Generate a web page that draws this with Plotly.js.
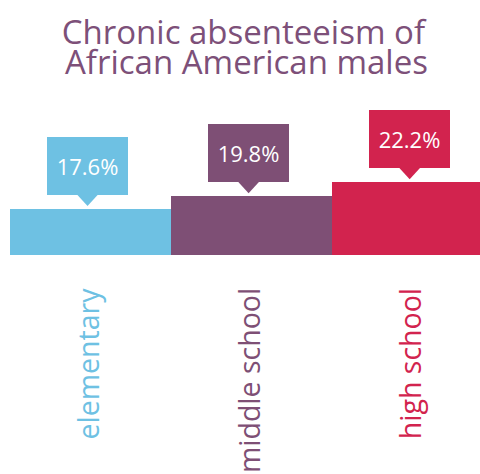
<!DOCTYPE html>
<html>
<head>
<meta charset="utf-8">
<script src="https://cdn.plot.ly/plotly-3.0.1.min.js"></script>
<style>html,body{margin:0;padding:0;background:#fff;}#chart{width:480px;height:474px;}</style>
</head>
<body>
<div id="chart"></div>
<script>
const categories = ['elementary', 'middle school', 'high school'];
const values = [17.6, 19.8, 22.2];
const valueLabels = ['17.6%', '19.8%', '22.2%'];
const colors = ['#6EC1E3', '#7E4F75', '#D2234E'];
const titleLine1 = 'Chronic absenteeism of';
const titleLine2 = 'African American males';
const titleColor = '#7D5079';

const bar = {
  type: 'bar',
  x: categories,
  y: values,
  width: 1,
  marker: {color: colors, line: {width: 0}},
  hoverinfo: 'none'
};

const annotations = [];
const shapes = [];
categories.forEach((c, i) => {
  annotations.push({
    x: c, y: values[i], xref: 'x', yref: 'y',
    text: valueLabels[i], showarrow: false,
    xanchor: 'center', yanchor: 'bottom',
    xshift: -3, yshift: 14,
    width: 81, height: 58, borderpad: 0, borderwidth: 0,
    bgcolor: colors[i],
    font: {family: 'Open Sans', size: 22, color: '#ffffff'}
  });
  shapes.push({
    type: 'path', xref: 'x', yref: 'y',
    xsizemode: 'pixel', ysizemode: 'pixel',
    xanchor: i, yanchor: values[i],
    path: 'M-14,15 L8,15 L-3,3 Z',
    fillcolor: colors[i], line: {width: 0}, layer: 'above'
  });
  annotations.push({
    x: c, y: 0, xref: 'x', yref: 'paper',
    text: c, showarrow: false, textangle: -90,
    xanchor: 'center', yanchor: 'top',
    xshift: -3, yshift: -31,
    font: {family: 'Open Sans', size: 28.5, color: colors[i]}
  });
});

// second title line
annotations.push({
  x: 0.504, y: 1.406, xref: 'paper', yref: 'paper',
  text: titleLine2, showarrow: false,
  xanchor: 'center', yanchor: 'top',
  font: {family: 'Open Sans', size: 33, color: titleColor}
});

const layout = {
  width: 480, height: 474,
  margin: {l: 10, r: 0, t: 100, b: 219, pad: 0},
  paper_bgcolor: '#ffffff', plot_bgcolor: '#ffffff',
  showlegend: false,
  bargap: 0,
  title: {
    text: titleLine1, x: 0.507, xanchor: 'center', y: 0.955, yanchor: 'top',
    font: {family: 'Open Sans', size: 33, color: titleColor}
  },
  xaxis: {type: 'category', range: [-0.5, 2.418], showticklabels: false, showgrid: false, zeroline: false, showline: false, ticks: '', fixedrange: true},
  yaxis: {range: [9.73, 36.32], visible: false, showgrid: false, zeroline: false, fixedrange: true},
  annotations: annotations,
  shapes: shapes
};

Plotly.newPlot('chart', [bar], layout, {displayModeBar: false, staticPlot: true});
</script>
</body>
</html>
